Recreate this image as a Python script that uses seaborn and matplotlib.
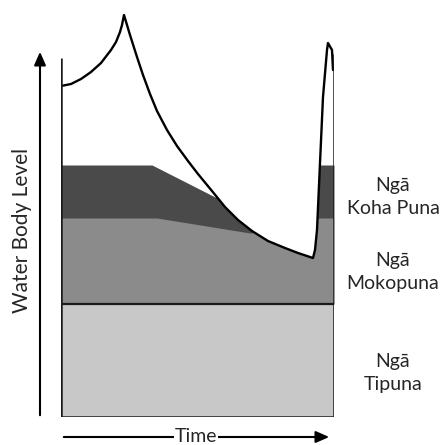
import pandas as pd
import matplotlib
matplotlib.use("Agg")
import matplotlib.pyplot as plt
import seaborn as sns

# ==========================
# Dane
# ==========================
# poziom wody w czasie
water_time = [0, 10, 20, 30, 40, 50, 55, 59, 61, 63,
              69, 76, 82, 89, 96, 106, 116, 127, 137, 151, 164, 177, 191, 207, 224, 237, 249, 252,
              254, 256, 259, 262, 266, 267, 271, 272]
water_level = [331, 333, 338, 345, 354, 367, 375, 385, 392, 402,
               382, 360, 342, 323, 306, 287, 271, 256, 243, 226, 210, 197, 186, 176, 169, 164, 160, 159,
               167, 187, 254, 320, 367, 374, 367, 347]

# warstwy (gora kazdej warstwy)
tipuna_time = [0, 273]
tipuna_top = [113, 113]
moko_time = [0, 96, 189, 250, 258, 273]
moko_top = [199, 199, 184, 190, 199, 199]
koha_time = [0, 91, 156, 258, 273]
koha_top = [252, 252, 219, 252, 252]

layer_labels = ["Ngā\nKoha Puna", "Ngā\nMokopuna", "Ngā\nTipuna"]
label_levels = [220, 145, 44]

wall_heights = [359, 363]  # lewa i prawa scianka
box_width = 273

# ==========================
# Wykres
# ==========================
sns.set_style("white")
plt.rcParams['font.family'] = ['Lato', 'DejaVu Sans']

fig = plt.figure(figsize=(4.4, 4.45), dpi=100)
ax = fig.add_axes([61 / 440, 28 / 445, box_width / 440, 417 / 445])
ax.set_xlim(0, box_width)
ax.set_ylim(0, 417)
ax.axis('off')

# warstwy (od gory do dolu, kazda nastepna przykrywa poprzednia)
ax.fill_between(koha_time, tipuna_top[0], koha_top, color="#4a4a4a", lw=0)
ax.fill_between(moko_time, tipuna_top[0], moko_top, color="#8b8b8b", lw=0)
ax.fill_between(tipuna_time, 0, tipuna_top, color="#c8c8c8", lw=0)

# ponad linia wody - bialo
ax.fill_between(water_time, water_level, 417, color="white", lw=0)

df = pd.DataFrame({"time": water_time, "level": water_level})
sns.lineplot(data=df, x="time", y="level", ax=ax, color="black", lw=1.7, sort=False)
ax.set_xlabel("")
ax.set_ylabel("")

# ramka
ax.plot(tipuna_time, tipuna_top, color="#1a1a1a", lw=1.6)
ax.plot([0, 0], [0, wall_heights[0]], color="#1a1a1a", lw=1.8, solid_capstyle='butt')
ax.plot([box_width, box_width], [0, wall_heights[1]], color="#1a1a1a", lw=1.8, solid_capstyle='butt')
ax.plot([0, box_width], [0, 0], color="#1a1a1a", lw=1.8)

# osie ze strzalkami
arrow_kw = dict(arrowstyle="-|>,head_length=0.8,head_width=0.35", color="black", lw=1.5)
ax.annotate("", xy=(-21, 368), xytext=(-21, -1), arrowprops=arrow_kw, annotation_clip=False)
ax.annotate("", xy=(271, -20), xytext=(0, -20), arrowprops=arrow_kw, annotation_clip=False)
ax.text(135, -19, "Time", ha="center", va="center", fontsize=14, clip_on=False,
        bbox=dict(facecolor="white", edgecolor="none", pad=0.3))
ax.text(-39, 187, "Water Body Level", rotation=90, ha="center", va="center", fontsize=15, clip_on=False)

for lab, lvl in zip(layer_labels, label_levels):
    ax.text(332, lvl, lab, ha="center", va="center", fontsize=14, linespacing=1.4, clip_on=False)

fig.savefig("out.png", dpi=100)
